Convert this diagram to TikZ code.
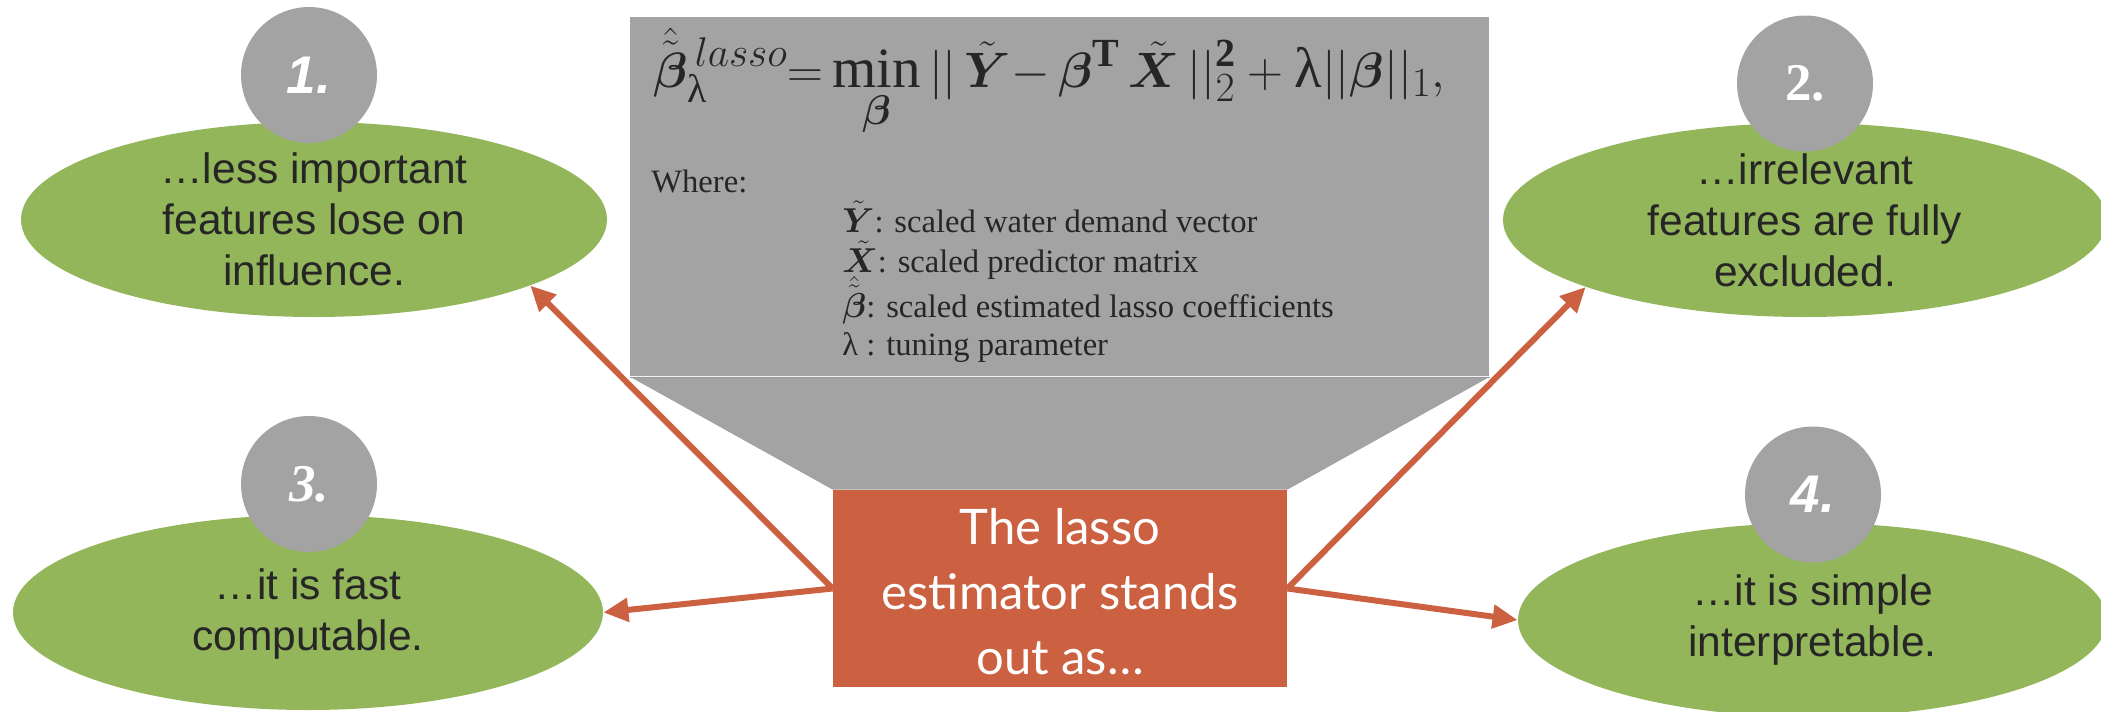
\documentclass[tikz,border=0pt]{standalone}
\usepackage{amsmath}
\usepackage{bm}
\usepackage{fontspec}
\setmainfont{Liberation Serif}
\setsansfont{Liberation Sans}
\newfontfamily\latofont{Lato}
\usetikzlibrary{shapes.geometric,arrows.meta}
\definecolor{cgreen}{HTML}{94B65A}
\definecolor{cgray}{HTML}{A3A3A3}
\definecolor{corange}{HTML}{CC6142}
\definecolor{ctext}{HTML}{262626}
\newcommand{\mylam}{\text{λ}}
\newcommand{\numsize}{\fontsize{26.5}{30}\selectfont}
\begin{document}
\begin{tikzpicture}[x=0.5pt,y=-0.5pt,
  ellbg/.style={ellipse, fill=cgreen, inner sep=0pt},
  etxt/.style={align=center, text=ctext, inner sep=0pt, font=\sffamily\fontsize{21.25}{25.5}\selectfont},
  numc/.style={circle, fill=cgray, minimum size=68pt, inner sep=0pt, text=white},
  conn/.style={draw=corange, line width=3pt, -{Triangle[length=12.5pt,width=11.5pt]}},
  gtxt/.style={text=ctext, inner sep=0pt, anchor=base west, font=\fontsize{16.3}{19}\selectfont}
]
\useasboundingbox (0,0) rectangle (2101,712);
% gray callout
\node[fill=cgray, minimum width=429.5pt, minimum height=179.5pt, inner sep=0pt, anchor=north west] (gb) at (630,17) {};
\node[fill=corange, minimum width=227pt, minimum height=98.5pt, inner sep=0pt] (orb) at (1060,588.5) {};
\fill[cgray] (gb.south west) -- (orb.north west) -- (orb.north east) -- (gb.south east) -- cycle;
\draw[cgray!94!black, line width=0.3pt] (gb.south west) -- (gb.south east);
\node[align=center, text=white, inner sep=0pt, font=\latofont\fontsize{24.5}{32.5}\selectfont] (orbt) at (1060,592) {The lasso\\estimator stands\\out as…};
% formula and legend
\node[anchor=base west, inner sep=0pt, text=ctext, font=\fontsize{28.5}{32}\selectfont] (fm) at (653,87)
  {$\displaystyle \hat{\tilde{\bm{\beta}}}{}^{\,lasso}_{\mylam}\mathbf{=}\min_{\bm{\beta}}||\,\tilde{\bm{Y}}{-}\,\bm{\beta}^{\mathbf{T}}\,\tilde{\bm{X}}\,||_2^{\mathbf{2}}+\mylam||\bm{\beta}||_1,$};
\node[gtxt] (wh) at (651,192) {Where:};
\node[gtxt] (i1) at (842,232) {$\tilde{\bm{Y}}$: scaled water demand vector};
\node[gtxt] (i2) at (842,272) {$\tilde{\bm{X}}$: scaled predictor matrix};
\node[gtxt] (i3) at (842,317) {$\hat{\tilde{\bm{\beta}}}$: scaled estimated lasso coefficients};
\node[gtxt] (i4) at (842,355) {λ : tuning parameter};
% ellipses
\node[ellbg, minimum width=293pt, minimum height=97.5pt] (e1) at (314,219.5) {};
\node[ellbg, minimum width=302pt, minimum height=97pt] (e2) at (1805,220) {};
\node[ellbg, minimum width=295pt, minimum height=97.5pt] (e3) at (308,612.5) {};
\node[ellbg, minimum width=294.5pt, minimum height=97pt] (e4) at (1812.5,620) {};
\node[etxt] (t1) at (314,219.5) {…less important\\features lose on\\influence.};
\node[etxt] (t2) at (1805,220) {…irrelevant\\features are fully\\excluded.};
\node[etxt] (t3) at (308,614) {…it is fast\\computable.};
\node[etxt] (t4) at (1812.5,620) {…it is simple\\interpretable.};
% number circles
\node[numc, font=\sffamily\bfseries\itshape\numsize] (c1) at (309,75) {1.};
\node[numc, font=\bfseries\numsize] (c2) at (1805,83.5) {2.};
\node[numc, font=\bfseries\itshape\numsize] (c3) at (309,484) {3.};
\node[numc, font=\sffamily\bfseries\itshape\numsize] (c4) at (1813,494.5) {4.};
% connectors
\draw[conn] (orb.west) -- (e1.-17.8);
\draw[conn] (orb.west) -- (e3.east);
\draw[conn] (orb.east) -- (e2.197.9);
\draw[conn] (orb.east) -- (e4.west);
\end{tikzpicture}
\end{document}
